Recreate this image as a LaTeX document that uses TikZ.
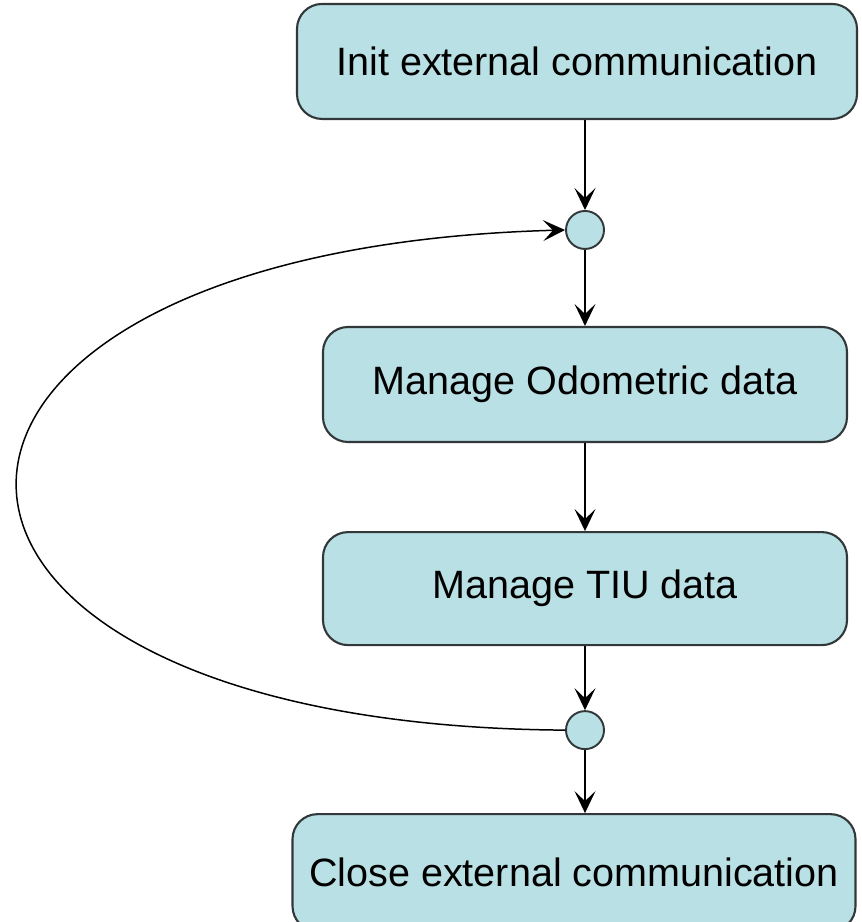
\documentclass[tikz,border=0pt]{standalone}
\usepackage{fontspec}
\setmainfont{Liberation Sans}
\usepackage{tikz}
\usetikzlibrary{positioning}
\usetikzlibrary{arrows.meta}
\usepackage{xcolor}
\definecolor{boxfill}{RGB}{185,224,228}
\definecolor{boxline}{RGB}{50,56,58}

\begin{document}
\begin{tikzpicture}[
taskbox/.style={rectangle, rounded corners=0.5cm, draw=boxline, fill=boxfill, line width=1.2pt, minimum height=2.3cm, font=\fontsize{22.5}{27}\selectfont},
joinnode/.style={circle, draw=boxline, fill=boxfill, line width=1.1pt, minimum size=0.76cm, inner sep=0pt},
>={Stealth[length=0.44cm, width=0.42cm, inset=0.2cm]},
flow/.style={->, line width=0.85pt, black},
]
\useasboundingbox (0,0) rectangle (17.22,18.44);
%Nodes
\node[taskbox, minimum width=10.48cm]   (odo)   at (11.70,10.75)                 {Manage Odometric data};
\node[joinnode]                         (j1)    [above=1.52cm of odo]            {};
\node[taskbox, minimum width=11.2cm]    (init)  [above=1.8cm of j1, xshift=-0.16cm] {Init external communication};
\node[taskbox, minimum width=10.48cm, minimum height=2.26cm] (tiu) [below=1.76cm of odo] {Manage TIU data};
\node[joinnode]                         (j2)    [below=1.28cm of tiu]            {};
\node[taskbox, minimum width=11.26cm, minimum height=2.34cm] (close) [below=1.26cm of j2, xshift=-0.22cm] {Close external communication};

%Lines
\draw[flow] (init.south -| j1) -- (j1);
\draw[flow] (j1) -- (odo);
\draw[flow] (odo) -- (tiu);
\draw[flow] (tiu) -- (j2);
\draw[flow] (j2) -- (close.north -| j2);
\draw[flow] (j2.west) .. controls +(-14.6,0.1) and +(-14.6,-0.4) .. (j1.west);
\end{tikzpicture}
\end{document}
